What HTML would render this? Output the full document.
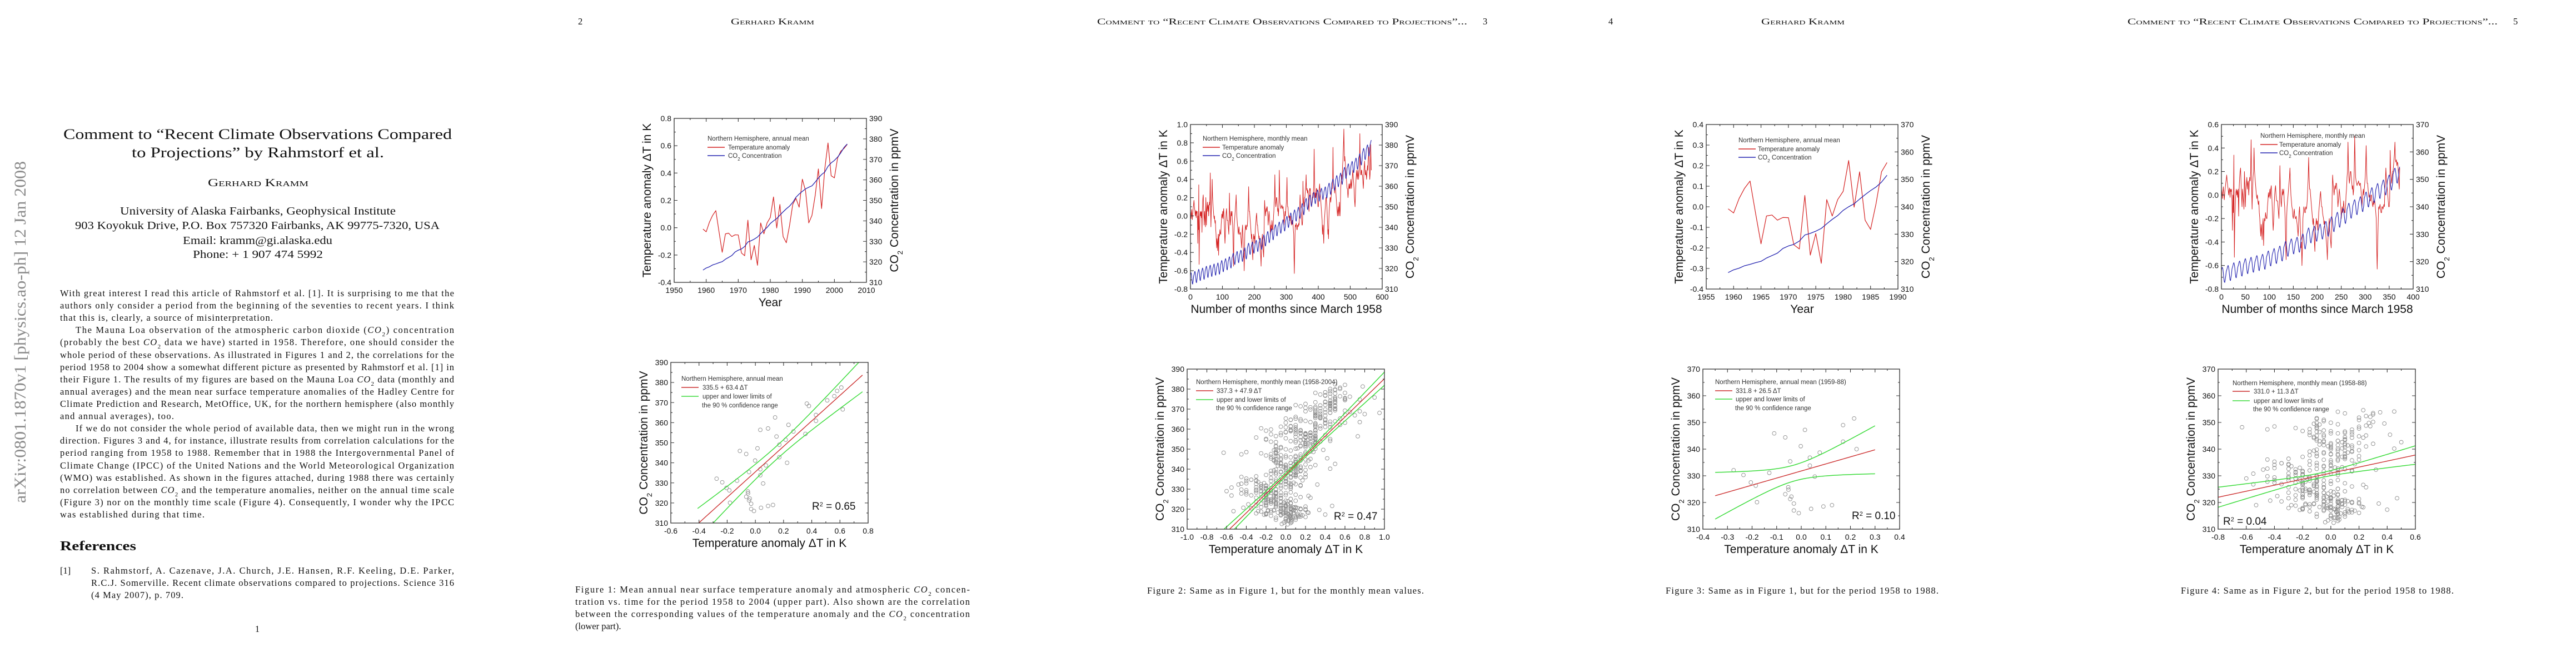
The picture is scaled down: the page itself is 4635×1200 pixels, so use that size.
<!DOCTYPE html>
<html><head><meta charset="utf-8"><title>Comment to Recent Climate Observations</title>
<style>
html,body{margin:0;padding:0;background:#fff;}
svg{display:block;}
.serif{font-family:"Liberation Serif",serif;fill:#111;}
.sans{font-family:"Liberation Sans",sans-serif;}
.body{font-size:16.5px;}
.sc{font-variant:small-caps;font-size:16px;}
</style></head>
<body>
<svg id="sheet" xmlns="http://www.w3.org/2000/svg" width="4635" height="1200" viewBox="0 0 4635 1200">
<defs id="defs"></defs>
<rect x="0" y="0" width="4635" height="1200" fill="#fff"/>

<!-- PAGE 1 -->
<g class="serif">
<text transform="translate(46,905) rotate(-90)" font-size="30" fill="#8a8a8a" style="fill:#8a8a8a" textLength="615" lengthAdjust="spacingAndGlyphs">arXiv:0801.1870v1  [physics.ao-ph]  12 Jan 2008</text>
<text x="114" y="250" font-size="26" textLength="699" lengthAdjust="spacingAndGlyphs">Comment to “Recent Climate Observations Compared</text>
<text x="237" y="283" font-size="26" textLength="454" lengthAdjust="spacingAndGlyphs">to Projections” by Rahmstorf et al.</text>
<text x="374" y="335" class="sc" font-size="20" style="font-size:20px" textLength="181" lengthAdjust="spacingAndGlyphs">Gerhard Kramm</text>
<text x="216" y="386" font-size="20" textLength="496" lengthAdjust="spacingAndGlyphs">University of Alaska Fairbanks, Geophysical Institute</text>
<text x="135" y="412" font-size="20" textLength="656" lengthAdjust="spacingAndGlyphs">903 Koyokuk Drive, P.O. Box 757320 Fairbanks, AK 99775-7320, USA</text>
<text x="329" y="439" font-size="20" textLength="269" lengthAdjust="spacingAndGlyphs">Email: kramm@gi.alaska.edu</text>
<text x="347" y="464" font-size="20" textLength="234" lengthAdjust="spacingAndGlyphs">Phone: + 1 907 474 5992</text>

<g class="body">
<text x="108" y="533" textLength="709" lengthAdjust="spacing">With great interest I read this article of Rahmstorf et al. [1]. It is surprising to me that the</text>
<text x="108" y="555" textLength="709" lengthAdjust="spacing">authors only consider a period from the beginning of the seventies to recent years. I think</text>
<text x="108" y="577" textLength="383" lengthAdjust="spacing">that this is, clearly, a source of misinterpretation.</text>
<text x="136" y="599" textLength="681" lengthAdjust="spacing">The Mauna Loa observation of the atmospheric carbon dioxide (<tspan font-style="italic">CO</tspan><tspan font-size="11" baseline-shift="sub">2</tspan>) concentration</text>
<text x="108" y="621" textLength="709" lengthAdjust="spacing">(probably the best <tspan font-style="italic">CO</tspan><tspan font-size="11" baseline-shift="sub">2</tspan> data we have) started in 1958. Therefore, one should consider the</text>
<text x="108" y="644" textLength="709" lengthAdjust="spacing">whole period of these observations. As illustrated in Figures 1 and 2, the correlations for the</text>
<text x="108" y="666" textLength="709" lengthAdjust="spacing">period 1958 to 2004 show a somewhat different picture as presented by Rahmstorf et al. [1] in</text>
<text x="108" y="688" textLength="709" lengthAdjust="spacing">their Figure 1. The results of my figures are based on the Mauna Loa <tspan font-style="italic">CO</tspan><tspan font-size="11" baseline-shift="sub">2</tspan> data (monthly and</text>
<text x="108" y="710" textLength="709" lengthAdjust="spacing">annual averages) and the mean near surface temperature anomalies of the Hadley Centre for</text>
<text x="108" y="732" textLength="709" lengthAdjust="spacing">Climate Prediction and Research, MetOffice, UK, for the northern hemisphere (also monthly</text>
<text x="108" y="754" textLength="205" lengthAdjust="spacing">and annual averages), too.</text>
<text x="136" y="776" textLength="681" lengthAdjust="spacing">If we do not consider the whole period of available data, then we might run in the wrong</text>
<text x="108" y="798" textLength="709" lengthAdjust="spacing">direction. Figures 3 and 4, for instance, illustrate results from correlation calculations for the</text>
<text x="108" y="820" textLength="709" lengthAdjust="spacing">period ranging from 1958 to 1988. Remember that in 1988 the Intergovernmental Panel of</text>
<text x="108" y="843" textLength="709" lengthAdjust="spacing">Climate Change (IPCC) of the United Nations and the World Meteorological Organization</text>
<text x="108" y="865" textLength="709" lengthAdjust="spacing">(WMO) was established. As shown in the figures attached, during 1988 there was certainly</text>
<text x="108" y="887" textLength="709" lengthAdjust="spacing">no correlation between <tspan font-style="italic">CO</tspan><tspan font-size="11" baseline-shift="sub">2</tspan> and the temperature anomalies, neither on the annual time scale</text>
<text x="108" y="909" textLength="709" lengthAdjust="spacing">(Figure 3) nor on the monthly time scale (Figure 4). Consequently, I wonder why the IPCC</text>
<text x="108" y="931" textLength="260" lengthAdjust="spacing">was established during that time.</text>
</g>
<text x="108" y="990" font-size="24" font-weight="bold" textLength="137" lengthAdjust="spacingAndGlyphs">References</text>
<g class="body">
<text x="108" y="1032">[1]</text>
<text x="164" y="1032" textLength="653" lengthAdjust="spacing">S. Rahmstorf, A. Cazenave, J.A. Church, J.E. Hansen, R.F. Keeling, D.E. Parker,</text>
<text x="164" y="1054" textLength="653" lengthAdjust="spacing">R.C.J. Somerville. Recent climate observations compared to projections. Science 316</text>
<text x="164" y="1076" textLength="166" lengthAdjust="spacing">(4 May 2007), p. 709.</text>
</g>
<text x="463" y="1137" font-size="16.5" text-anchor="middle">1</text>
</g>

<!-- PAGE HEADERS -->
<g class="serif">
<text x="1040" y="44" font-size="16.5">2</text>
<text x="1315" y="44" class="sc" textLength="150" lengthAdjust="spacingAndGlyphs">Gerhard Kramm</text>
<text x="1974" y="44" class="sc" textLength="666" lengthAdjust="spacingAndGlyphs">Comment to “Recent Climate Observations Compared to Projections”...</text>
<text x="2668" y="44" font-size="16.5">3</text>
<text x="2894" y="44" font-size="16.5">4</text>
<text x="3169" y="44" class="sc" textLength="150" lengthAdjust="spacingAndGlyphs">Gerhard Kramm</text>
<text x="3828" y="44" class="sc" textLength="666" lengthAdjust="spacingAndGlyphs">Comment to “Recent Climate Observations Compared to Projections”...</text>
<text x="4522" y="44" font-size="16.5">5</text>
</g>

<!-- CAPTIONS -->
<g class="serif body">
<text x="1035" y="1066" textLength="710" lengthAdjust="spacing">Figure 1: Mean annual near surface temperature anomaly and atmospheric <tspan font-style="italic">CO</tspan><tspan font-size="11" baseline-shift="sub">2</tspan> concen-</text>
<text x="1035" y="1088" textLength="710" lengthAdjust="spacing">tration vs. time for the period 1958 to 2004 (upper part). Also shown are the correlation</text>
<text x="1035" y="1110" textLength="710" lengthAdjust="spacing">between the corresponding values of the temperature anomaly and the <tspan font-style="italic">CO</tspan><tspan font-size="11" baseline-shift="sub">2</tspan> concentration</text>
<text x="1035" y="1132">(lower part).</text>
</g>
<text class="serif body" x="2064" y="1068" textLength="498" lengthAdjust="spacing">Figure 2: Same as in Figure 1, but for the monthly mean values.</text>
<text class="serif body" x="2997" y="1068" textLength="491" lengthAdjust="spacing">Figure 3: Same as in Figure 1, but for the period 1958 to 1988.</text>
<text class="serif body" x="3924" y="1068" textLength="491" lengthAdjust="spacing">Figure 4: Same as in Figure 2, but for the period 1958 to 1988.</text>
</svg>

<script>
// ---------------- DATA ----------------
// NH annual mean temperature anomaly (K), years 1959..2004
const tempAnnual = [-0.01,-0.03,0.04,0.09,0.125,-0.03,-0.18,-0.045,-0.04,-0.065,
 -0.052,-0.053,-0.185,-0.205,0.055,-0.235,-0.13,-0.275,0.035,-0.045,
 0.035,0.075,0.225,-0.002,0.17,-0.065,-0.11,0.015,0.17,0.215,
 0.15,0.355,0.27,0.035,0.09,0.235,0.43,0.14,0.43,0.62,
 0.38,0.365,0.51,0.56,0.58,0.61];
const tempAnnualStartYear = 1959;
// Mauna Loa annual CO2 (ppmV), years 1958..2005
const co2Annual = [315.3,316.0,317.0,317.6,318.5,319.0,319.6,320.1,321.3,322.2,
 323.1,324.8,325.7,326.3,327.5,329.7,330.3,331.1,332.1,333.8,
 335.4,336.8,338.7,340.0,341.1,342.8,344.4,345.9,347.2,349.0,
 351.5,353.1,354.4,355.6,356.4,357.1,358.9,360.9,362.6,363.8,
 366.6,368.3,369.5,371.1,373.2,375.8,377.5,379.8];
const co2StartYear = 1958;
// Mauna Loa seasonal cycle (ppmV), Jan..Dec
const co2Seasonal = [0.3,0.9,1.5,2.3,2.6,2.0,0.6,-1.3,-2.7,-2.9,-1.7,-0.6];
// NH monthly temperature anomaly (K), month 0 = March 1958
const tempMonthly = [
0.05,0.02,-0.03,0.03,0.07,0.00,-0.04,0.02,0.06,0.10,0.13,0.17,
0.12,0.08,0.05,0.00,0.04,0.06,-0.02,0.05,0.03,0.05,-0.05,-0.30,
0.00,-0.15,0.34,-0.53,-0.20,-0.10,0.02,0.05,0.00,0.04,-0.02,0.05,
-0.18,0.06,0.15,0.20,0.23,0.10,0.00,-0.10,0.05,0.00,-0.05,-0.12,
0.20,0.08,-0.10,0.05,0.10,0.15,0.05,0.10,0.12,0.00,0.08,0.15,
0.12,0.20,0.47,0.10,-0.12,0.05,0.15,0.20,0.40,0.22,0.15,0.10,
0.05,0.00,-0.03,0.00,-0.05,-0.08,-0.05,-0.15,-0.20,-0.28,-0.35,-0.25,
-0.30,-0.38,-0.25,-0.20,-0.43,-0.25,-0.20,-0.22,-0.15,-0.18,-0.20,-0.20,
-0.10,-0.05,0.02,-0.02,0.00,0.05,-0.03,0.05,0.08,0.00,-0.10,-0.20,
-0.30,-0.22,-0.10,0.00,0.05,0.08,0.00,-0.05,-0.05,-0.05,-0.10,-0.15,
-0.20,-0.05,0.25,0.05,-0.05,-0.10,-0.02,0.05,0.00,0.02,0.05,-0.05,
-0.10,-0.20,-0.40,-0.55,-0.20,-0.10,-0.05,0.00,0.05,0.10,0.15,0.23,
0.10,0.00,-0.05,-0.10,-0.12,-0.18,-0.20,-0.15,-0.12,-0.18,-0.20,-0.20,
-0.18,-0.22,-0.25,-0.30,-0.35,-0.25,-0.15,-0.10,-0.20,-0.30,-0.45,-0.40,
-0.60,-0.45,-0.20,-0.15,-0.10,-0.12,-0.15,-0.15,-0.10,-0.12,-0.10,-0.05,
0.05,0.15,0.32,0.15,0.05,0.05,0.00,-0.05,-0.10,-0.15,-0.20,-0.25,
-0.20,-0.30,-0.40,-0.48,-0.30,-0.25,-0.20,-0.25,-0.22,-0.30,-0.25,-0.15,
-0.10,-0.05,0.00,0.03,-0.05,-0.10,-0.10,-0.15,-0.18,-0.20,-0.25,-0.22,
-0.28,-0.30,-0.35,-0.40,-0.45,-0.55,-0.40,-0.30,-0.25,-0.20,-0.30,-0.35,
-0.40,-0.45,-0.30,0.00,0.17,0.10,0.05,0.00,0.05,0.08,0.05,0.10,
0.10,0.05,0.00,-0.10,-0.05,0.00,0.05,0.00,-0.05,-0.10,-0.20,-0.15,
-0.10,-0.15,-0.12,-0.05,-0.10,-0.15,-0.15,-0.10,0.00,0.05,0.15,0.20,
0.45,0.25,0.15,0.10,0.15,0.20,0.20,0.15,0.10,0.05,0.08,0.00,
0.05,0.20,0.50,0.30,0.15,0.12,0.10,0.08,0.10,0.10,0.12,0.10,
0.08,0.10,0.10,0.05,0.00,-0.10,-0.05,0.00,0.05,0.00,0.05,0.10,
0.15,0.25,0.42,0.20,0.10,0.10,0.05,0.00,-0.02,0.00,-0.05,-0.05,
0.00,0.00,-0.05,-0.08,-0.10,-0.05,-0.08,-0.05,-0.05,-0.10,-0.15,-0.20,
-0.45,-0.63,-0.40,-0.25,-0.10,-0.12,-0.10,-0.08,-0.12,-0.15,-0.15,-0.10,
-0.10,-0.12,-0.10,-0.08,-0.10,0.05,0.10,0.23,0.15,0.10,0.05,0.00,
-0.05,-0.10,-0.10,-0.05,0.38,0.20,0.15,0.10,0.15,0.20,0.20,0.25,
0.30,0.35,0.45,0.30,0.28,0.30,0.25,0.28,0.27,0.20,0.10,0.05,
0.23,0.30,0.28,0.30,0.20,0.15,0.12,0.10,0.15,0.20,0.18,0.25,
0.20,0.30,0.40,0.73,0.45,0.30,0.20,0.25,0.20,0.25,0.30,0.30,
0.25,0.20,0.15,0.10,0.10,0.15,0.20,0.30,0.35,0.30,0.25,0.20,
0.15,0.10,0.05,0.00,-0.05,-0.20,-0.15,-0.10,-0.20,-0.30,-0.15,-0.05,
0.00,0.05,0.10,0.15,0.20,0.20,0.15,0.10,0.00,-0.10,-0.20,-0.15,
-0.25,-0.05,0.05,0.10,0.15,0.20,0.20,0.15,0.20,0.25,0.30,0.30,
0.30,0.40,0.75,0.40,0.35,0.30,0.30,0.25,0.30,0.35,0.30,0.25,
0.20,0.15,0.10,0.05,0.00,0.05,0.10,0.05,0.00,0.10,0.15,0.05,
0.00,0.10,0.30,0.35,0.40,0.45,0.40,0.45,0.55,0.60,0.70,0.80,
0.95,0.75,0.60,0.65,0.60,0.55,0.50,0.45,0.40,0.35,0.30,0.30,
0.25,0.20,0.25,0.30,0.35,0.30,0.30,0.35,0.30,0.35,0.40,0.35,
0.30,0.35,0.40,0.45,0.50,0.45,0.40,0.35,0.30,0.20,0.15,0.10,
0.20,0.30,0.40,0.45,0.50,0.45,0.40,0.45,0.50,0.45,0.40,0.45,
0.50,0.60,0.90,0.60,0.50,0.45,0.45,0.50,0.50,0.45,0.45,0.40,
0.35,0.30,0.40,0.50,0.55,0.60,0.50,0.45,0.45,0.50,0.45,0.40,
0.45,0.50,0.55,0.50,0.60,0.65,0.75,0.60,0.50,0.40,0.45,0.55,
0.78,0.60,0.50];
const shortPeriodMonths = [373];       // 1958-88 monthly subset length
const shortPeriodYears = [30];         // 1959-88 annual subset length
// regression fits [intercept, slope] and 90% band params [h0, h1, xMean]
const fit1 = [335.5, 63.4]; const band1 = [3.3, 12.5, 0.15];
const fit2 = [337.3, 47.9]; const band2 = [0.8, 3.55, 0.1];
const fit3 = [331.8, 26.5]; const band3 = [3.0, 25.7, -0.03];
const fit4 = [331.0, 11.3]; const band4 = [0.9, 5.0, -0.07];
const r2Labels = ['0.65','0.47','0.10','0.04'];

// ---------------- HELPERS ----------------
const NS='http://www.w3.org/2000/svg';
const svg=document.getElementById('sheet');
const defs=document.getElementById('defs');
function mk(tag,parent){const e=document.createElementNS(NS,tag);parent.appendChild(e);return e;}
function attr(e,o){for(const k in o)e.setAttribute(k,o[k]);return e;}
function rich(t,segs,sub){segs.forEach(s=>{const sp=mk('tspan',t);if(Array.isArray(s)){sp.textContent=s[0];attr(sp,{'baseline-shift':s[1]||'sub','font-size':sub});}else sp.textContent=s;});}
function ticks(r,t){const [maj,mn]=t;const n=Math.round((r[1]-r[0])/mn);const out=[];for(let i=0;i<=n;i++){let v=r[0]+i*mn;if(Math.abs(v)<1e-9)v=0;const q=(v-r[0])/maj;out.push([v,Math.abs(q-Math.round(q))<1e-6]);}return out;}
const CO2 = ['CO',['2'],' Concentration in ppmV'];

function makeChart(c){
  const g=mk('g',svg);
  
  
  attr(g,{'font-family':'"Liberation Sans", sans-serif',fill:'#111'});
  const [X0,Y0,X1,Y1]=c.box,W=X1-X0,H=Y1-Y0;
  const sx=v=>X0+(v-c.xr[0])/(c.xr[1]-c.xr[0])*W;
  const sy=v=>Y1-(v-c.yr[0])/(c.yr[1]-c.yr[0])*H;
  const syR=c.rr?(v=>Y1-(v-c.rr[0])/(c.rr[1]-c.rr[0])*H):null;
  const cp=attr(mk('clipPath',defs),{id:c.name+'-clip'});
  attr(mk('rect',cp),{x:X0,y:Y0,width:W,height:H});
  const plot=attr(mk('g',g),{'clip-path':'url(#'+c.name+'-clip)'});
  
  
  let d='';
  ticks(c.xr,c.xt).forEach(([v,maj])=>{const x=sx(v),L=maj?6:3;d+=`M${x} ${Y1}v${-L}M${x} ${Y0}v${L}`;
    if(maj){const t=attr(mk('text',g),{x:x,y:Y1+19,'font-size':14,'text-anchor':'middle'});
      
      
      t.textContent=v.toFixed(c.xt[2]);}});
  ticks(c.yr,c.yt).forEach(([v,maj])=>{const y=sy(v),L=maj?6:3;d+=`M${X0} ${y}h${L}`;if(!c.rr)d+=`M${X1} ${y}h${-L}`;
    if(maj){const t=attr(mk('text',g),{x:X0-5,y:y+5,'font-size':14,'text-anchor':'end'});
      
      
      t.textContent=v.toFixed(c.yt[2]);}});
  if(c.rr) ticks(c.rr,c.rt).forEach(([v,maj])=>{const y=syR(v),L=maj?6:3;d+=`M${X1} ${y}h${-L}`;
    if(maj){const t=attr(mk('text',g),{x:X1+5,y:y+5,'font-size':14});
      
      
      t.textContent=v.toFixed(0);}});
  const tp=attr(mk('path',g),{d:d,stroke:'#333','stroke-width':1.1,fill:'none'});
  
  
  const fr=attr(mk('rect',g),{x:X0,y:Y0,width:W,height:H,fill:'none',stroke:'#333','stroke-width':1.3});
  
  
  const xt=attr(mk('text',g),{x:(X0+X1)/2,y:Y1+43,'font-size':21,'text-anchor':'middle'});
  
  
  rich(xt,c.xTitle,13);
  const yt=attr(mk('text',g),{transform:`translate(${X0-42},${(Y0+Y1)/2}) rotate(-90)`,'font-size':21,'text-anchor':'middle'});
  
  
  rich(yt,c.yTitle,13);
  if(c.rTitle){const rt=attr(mk('text',g),{transform:`translate(${X1+57},${(Y0+Y1)/2}) rotate(-90)`,'font-size':21,'text-anchor':'middle'});
    
    
    rich(rt,c.rTitle,13);}
  // legend
  const lg=mk('g',g);
  
  
  c.legend.forEach(it=>{
    if(it.color){const ln=attr(mk('line',lg),{x1:X0+it.lx[0],x2:X0+it.lx[1],y1:Y0+it.y,y2:Y0+it.y,stroke:it.color,'stroke-width':1.4});
      
      }
    const t=attr(mk('text',lg),{x:X0+it.x,y:Y0+it.y+4,'font-size':11.5,fill:'#333'});
    
    
    rich(t,it.text,8);
  });
  return {g,plot,sx,sy,syR,X0,Y0,X1,Y1};
}
function drawLine(ch,xs,ys,right,color,w,name){
  const f=right?ch.syR:ch.sy;
  const p=attr(mk('path',ch.plot),{d:xs.map((x,i)=>(i?'L':'M')+ch.sx(x).toFixed(2)+' '+f(ys[i]).toFixed(2)).join(''),fill:'none',stroke:color,'stroke-width':w,'stroke-linejoin':'round'});
  
  
}
function drawScatter(ch,xs,ys,name){
  const gg=mk('g',ch.plot);
  
  
  xs.forEach((x,i)=>{const cc=attr(mk('circle',gg),{cx:ch.sx(x),cy:ch.sy(ys[i]),r:3.4,fill:'none',stroke:'#8c8c8c','stroke-width':0.9});
    
    });
}
function drawFit(ch,fit,band,xa,xb){
  const N=80,xs=[],yc=[],yu=[],yl=[];
  for(let i=0;i<=N;i++){const x=xa+(xb-xa)*i/N;const m=fit[0]+fit[1]*x;const h=Math.sqrt(band[0]*band[0]+Math.pow(band[1]*(x-band[2]),2));xs.push(x);yc.push(m);yu.push(m+h);yl.push(m-h);}
  drawLine(ch,xs,yu,false,'#3ddc3d',1.5,'confidence-upper');
  drawLine(ch,xs,yl,false,'#3ddc3d',1.5,'confidence-lower');
  drawLine(ch,xs,yc,false,'#cc2f2f',1.4,'regression-line');
}
function r2(ch,x,y){const t=attr(mk('text',ch.g),{x:ch.X0+x,y:ch.Y0+y+7,'font-size':19});
  
  
  return t;}

// derived series
const annualYears = tempAnnual.map((_,i)=>tempAnnualStartYear+i);
const co2ForTempYears = annualYears.map(y=>co2Annual[y-co2StartYear]);
const monthIdx = tempMonthly.map((_,i)=>i);
const co2Monthly = monthIdx.map(m=>co2Annual[Math.floor((m+2)/12)]+co2Seasonal[(m+2)%12]);

const legTop=(lx,tx,y0,title)=>[
 {x:lx,y:y0,text:[title]},
 {x:tx,y:y0+16,lx:[lx,lx+31],color:'#d42020',text:['Temperature anomaly']},
 {x:tx,y:y0+31,lx:[lx,lx+31],color:'#2424b0',text:['CO',['2'],' Concentration']}];
const legBot=(lx,tx,ys,title,eq)=>[
 {x:lx,y:ys[0],text:[title]},
 {x:tx,y:ys[1],lx:[lx,lx+31],color:'#cc2f2f',text:[eq]},
 {x:tx,y:ys[2],lx:[lx,lx+31],color:'#3ddc3d',text:['upper and lower limits of']},
 {x:tx-1,y:ys[3],text:['the 90 % confidence range']}];
const T_TITLE=['Temperature anomaly \u0394T in K'];

// ---- Figure 1 ----
const f1t=makeChart({name:'fig1-timeseries',box:[1213,213,1559,508],xr:[1950,2010],xt:[10,5,0],yr:[-0.4,0.8],yt:[0.2,0.1,1],rr:[310,390],rt:[10,5],
 xTitle:['Year'],yTitle:T_TITLE,rTitle:CO2,legend:legTop(60,97,36,'Northern Hemisphere, annual mean')});
drawLine(f1t,annualYears,tempAnnual,false,'#d42020',1.2,'temperature-line');
drawLine(f1t,annualYears,co2ForTempYears,true,'#2424b0',1.3,'co2-line');
const f1s=makeChart({name:'fig1-scatter',box:[1207,652,1562,941],xr:[-0.6,0.8],xt:[0.2,0.1,1],yr:[310,390],yt:[10,5,0],
 xTitle:T_TITLE,yTitle:CO2,legend:legBot(19,57,[29,45,61,77],'Northern Hemisphere, annual mean',fit1[0]+' + '+fit1[1]+' \u0394T')});
drawScatter(f1s,tempAnnual,co2ForTempYears,'annual-points');
drawFit(f1s,fit1,band1,-0.41,0.76);
rich(r2(f1s,254,258),['R',['2','super'],' = '+r2Labels[0]],11);

// ---- Figure 2 ----
const f2t=makeChart({name:'fig2-timeseries',box:[2142,224,2487,520],xr:[0,600],xt:[100,50,0],yr:[-0.8,1.0],yt:[0.2,0.1,1],rr:[310,390],rt:[10,5],
 xTitle:['Number of months since March 1958'],yTitle:T_TITLE,rTitle:CO2,legend:legTop(22,57,25,'Northern Hemisphere, monthly mean')});
drawLine(f2t,monthIdx,tempMonthly,false,'#d42020',1.0,'temperature-line');
drawLine(f2t,monthIdx,co2Monthly,true,'#2424b0',1.1,'co2-line');
const f2s=makeChart({name:'fig2-scatter',box:[2136,664,2491,952],xr:[-1.0,1.0],xt:[0.2,0.1,1],yr:[310,390],yt:[10,5,0],
 xTitle:T_TITLE,yTitle:CO2,legend:legBot(16,53,[23,39,55,70],'Northern Hemisphere, monthly mean (1958-2004)',fit2[0]+' + '+fit2[1]+' \u0394T')});
drawScatter(f2s,tempMonthly,co2Monthly,'monthly-points');
drawFit(f2s,fit2,band2,-0.7,1.0);
rich(r2(f2s,264,264),['R',['2','super'],' = '+r2Labels[1]],11);

// ---- Figure 3 ----
const nY=shortPeriodYears[0];
const f3t=makeChart({name:'fig3-timeseries',box:[3070,224,3415,520],xr:[1955,1990],xt:[5,2.5,0],yr:[-0.4,0.4],yt:[0.1,0.05,1],rr:[310,370],rt:[10,5],
 xTitle:['Year'],yTitle:T_TITLE,rTitle:CO2,legend:legTop(58,93,28,'Northern Hemisphere, annual mean')});
drawLine(f3t,annualYears.slice(0,nY),tempAnnual.slice(0,nY),false,'#d42020',1.2,'temperature-line');
drawLine(f3t,annualYears.slice(0,nY),co2ForTempYears.slice(0,nY),true,'#2424b0',1.3,'co2-line');
const f3s=makeChart({name:'fig3-scatter',box:[3064,664,3418,952],xr:[-0.4,0.4],xt:[0.1,0.05,1],yr:[310,370],yt:[10,5,0],
 xTitle:T_TITLE,yTitle:CO2,legend:legBot(22,59,[23,39,54,70],'Northern Hemisphere, annual mean (1959-88)',fit3[0]+' + '+fit3[1]+' \u0394T')});
drawScatter(f3s,tempAnnual.slice(0,nY),co2ForTempYears.slice(0,nY),'annual-points');
drawFit(f3s,fit3,band3,-0.35,0.3);
rich(r2(f3s,268,263),['R',['2','super'],' = '+r2Labels[2]],11);

// ---- Figure 4 ----
const nM=shortPeriodMonths[0];
const f4t=makeChart({name:'fig4-timeseries',box:[3997,224,4342,520],xr:[0,400],xt:[50,25,0],yr:[-0.8,0.6],yt:[0.2,0.1,1],rr:[310,370],rt:[10,5],
 xTitle:['Number of months since March 1958'],yTitle:T_TITLE,rTitle:CO2,legend:legTop(70,104,20,'Northern Hemisphere, monthly mean')});
drawLine(f4t,monthIdx.slice(0,nM),tempMonthly.slice(0,nM),false,'#d42020',1.0,'temperature-line');
drawLine(f4t,monthIdx.slice(0,nM),co2Monthly.slice(0,nM),true,'#2424b0',1.1,'co2-line');
const f4s=makeChart({name:'fig4-scatter',box:[3991,664,4346,952],xr:[-0.8,0.6],xt:[0.2,0.1,1],yr:[310,370],yt:[10,5,0],
 xTitle:T_TITLE,yTitle:CO2,legend:legBot(26,64,[25,40,57,72],'Northern Hemisphere, monthly mean (1958-88)',fit4[0].toFixed(1)+' + '+fit4[1]+' \u0394T')});
drawScatter(f4s,tempMonthly.slice(0,nM),co2Monthly.slice(0,nM),'monthly-points');
drawFit(f4s,fit4,band4,-0.8,0.6);
rich(r2(f4s,9,273),['R',['2','super'],' = '+r2Labels[3]],11);
</script>
</body></html>
